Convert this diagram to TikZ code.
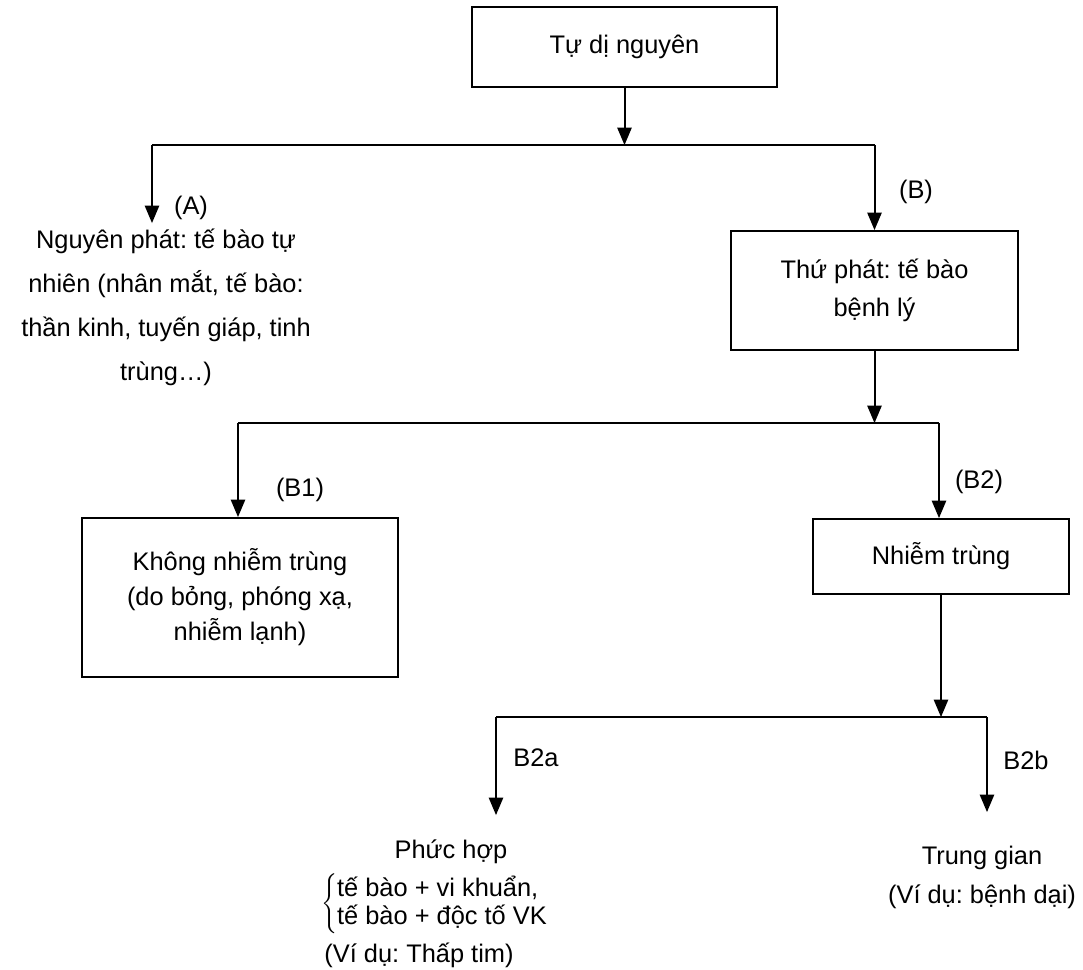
\documentclass[tikz,border=0pt]{standalone}
\usepackage{fontspec}
\setmainfont{Liberation Sans}
\usetikzlibrary{arrows}
\frenchspacing

\tikzset{
  khung/.style={draw, align=center, inner sep=0pt},
  chu/.style={align=center, inner sep=0pt},
  nhan/.style={inner sep=0pt},
}

\begin{document}
\begin{tikzpicture}[line join=miter,>=triangle 45,x=0.5pt,y=-0.5pt,line width=1pt,
  font=\fontsize{12.7}{17.5}\selectfont]
\useasboundingbox (0,0) rectangle (1083,970);
% cac hop
\node [khung, minimum width=152.5pt, minimum height=40pt] (tdn) at (624.5,47) {Tự dị nguyên};
\node [khung, minimum width=143.5pt, minimum height=59.5pt, font=\fontsize{12.7}{19}\selectfont] (tp) at (874.5,290.5) {Thứ phát: tế bào\\bệnh lý};
\node [khung, minimum width=158pt, minimum height=79.5pt] (kn) at (240,597.5) {Không nhiễm trùng\\(do bỏng, phóng xạ,\\nhiễm lạnh)};
\node [khung, minimum width=128pt, minimum height=37.5pt] (nt) at (941,556.5) {Nhiễm trùng};
%
\node [chu, font=\fontsize{12.7}{22}\selectfont] (np) at (166,307) {Nguyên phát: tế bào tự\\nhiên (nhân mắt, tế bào:\\thần kinh, tuyến giáp, tinh\\trùng…)};
\node [chu] (ph) at (451,852) {Phức hợp};
\node [nhan, anchor=west, font=\fontsize{12.7}{14}\selectfont] (ds) at (320,904) {$\left\{\begin{tabular}{@{}l@{}}tế bào + vi khuẩn,\\tế bào + độc tố VK\end{tabular}\right.$};
\node [chu] (tt) at (419,955) {(Ví dụ: Thấp tim)};
\node [chu, font=\fontsize{12.7}{19.5}\selectfont] (tg) at (982,877) {Trung gian\\(Ví dụ: bệnh dại)};
%
\node [nhan] (lA) at (191,208) {(A)};
\node [nhan] (lB) at (916,192) {(B)};
\node [nhan] (lB1) at (300,490) {(B1)};
\node [nhan] (lB2) at (979,482) {(B2)};
\node [nhan] (lB2a) at (536,758) {B2a};
\node [nhan] (lB2b) at (1026,760) {B2b};
% nhanh 1
\coordinate (r0) at (624.5,145);
\coordinate (r0L) at (152,145);
\coordinate (r0R) at (874.5,145);
\coordinate (dA) at (152,223);
\draw[->] (tdn) -- (r0);
\draw (r0L) -- (r0R);
\draw[->] (r0L) -- (dA);
\draw[->] (r0R) -- (tp);
% nhanh 2
\coordinate (r1) at (874.5,423);
\coordinate (r1L) at (238,423);
\coordinate (r1R) at (939,423);
\draw[->] (tp) -- (r1);
\draw (r1L) -- (r1R);
\draw[->] (r1L) -- (r1L |- kn.north);
\draw[->] (r1R) -- (r1R |- nt.north);
% nhanh 3
\coordinate (r2) at (941,717);
\coordinate (r2L) at (496,717);
\coordinate (r2R) at (987,717);
\coordinate (dL) at (496,815);
\coordinate (dR) at (987,812);
\draw[->] (nt) -- (r2);
\draw (r2L) -- (r2R);
\draw[->] (r2L) -- (dL);
\draw[->] (r2R) -- (dR);
\end{tikzpicture}
\end{document}
